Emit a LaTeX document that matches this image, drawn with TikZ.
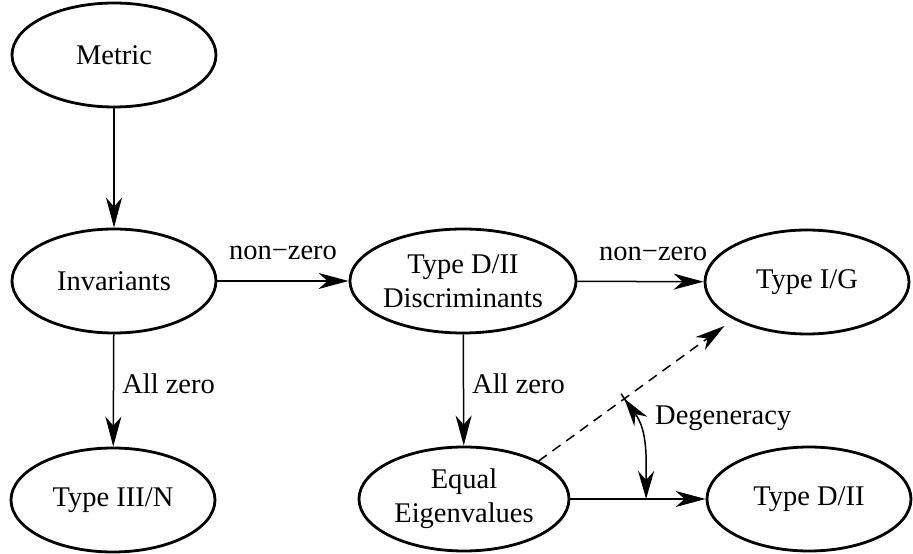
\documentclass[tikz,border=0pt]{standalone}
\usepackage{fontspec}
\setmainfont{Liberation Serif}
\usetikzlibrary{shapes.geometric,arrows.meta,calc}
\begin{document}
\begin{tikzpicture}[x=1pt,y=1pt,
  state/.style={ellipse,draw,line width=2.8pt,minimum width=204pt,minimum height=104pt,inner sep=0pt,align=center,font=\fontsize{28.5}{34}\selectfont},
  edge/.style={line width=1.5pt,-{Stealth[length=30pt,width=16pt,inset=9pt]}},
  lbl/.style={font=\fontsize{28.5}{34}\selectfont,inner sep=0pt}]
\useasboundingbox (0,0) rectangle (913,554);
\node[state] (metric) at (114,499) {Metric};
\node[state] (inv) at (114,273) {Invariants};
\node[state] (disc) at (463,273) {Type D/II\\Discriminants};
\node[state] (tig) at (807,272) {Type I/G};
\node[state] (tiii) at (113,54) {Type III/N};
\node[state,minimum width=210pt] (eq) at (464,55) {Equal\\Eigenvalues};
\node[state] (tdii) at (809,55) {Type D/II};
\draw[edge] (metric) -- (inv);
\draw[edge] (inv) -- node[lbl,midway,yshift=28pt] (l1) {non−zero} (disc);
\draw[edge] (disc) -- node[lbl,pos=0.6,yshift=28pt] (l2) {non−zero} (tig);
\draw[edge] (inv) -- node[lbl,pos=0.44,anchor=west,xshift=8pt] (l3) {All zero} (tiii);
\draw[edge] (disc) -- node[lbl,pos=0.44,anchor=west,xshift=8pt] (l4) {All zero} (eq);
\draw[edge] (eq) -- coordinate[pos=0.56] (junc) (tdii);
\draw[edge,dash pattern=on 10pt off 7pt,shorten >=11pt] (eq.27) -- coordinate[pos=0.44] (tick) (tig.207);
\draw[line width=1.5pt] ($(tick)!6pt!90:(tig)$) -- ($(tick)!6pt!-90:(tig)$);
\draw[line width=1.5pt,{Stealth[length=28pt,width=16pt,inset=9pt]}-{Stealth[length=28pt,width=16pt,inset=9pt]}] (tick) to[out=-54,in=90] (junc);
\node[lbl,anchor=base west] (deg) at (655,129) {Degeneracy};
\end{tikzpicture}
\end{document}
